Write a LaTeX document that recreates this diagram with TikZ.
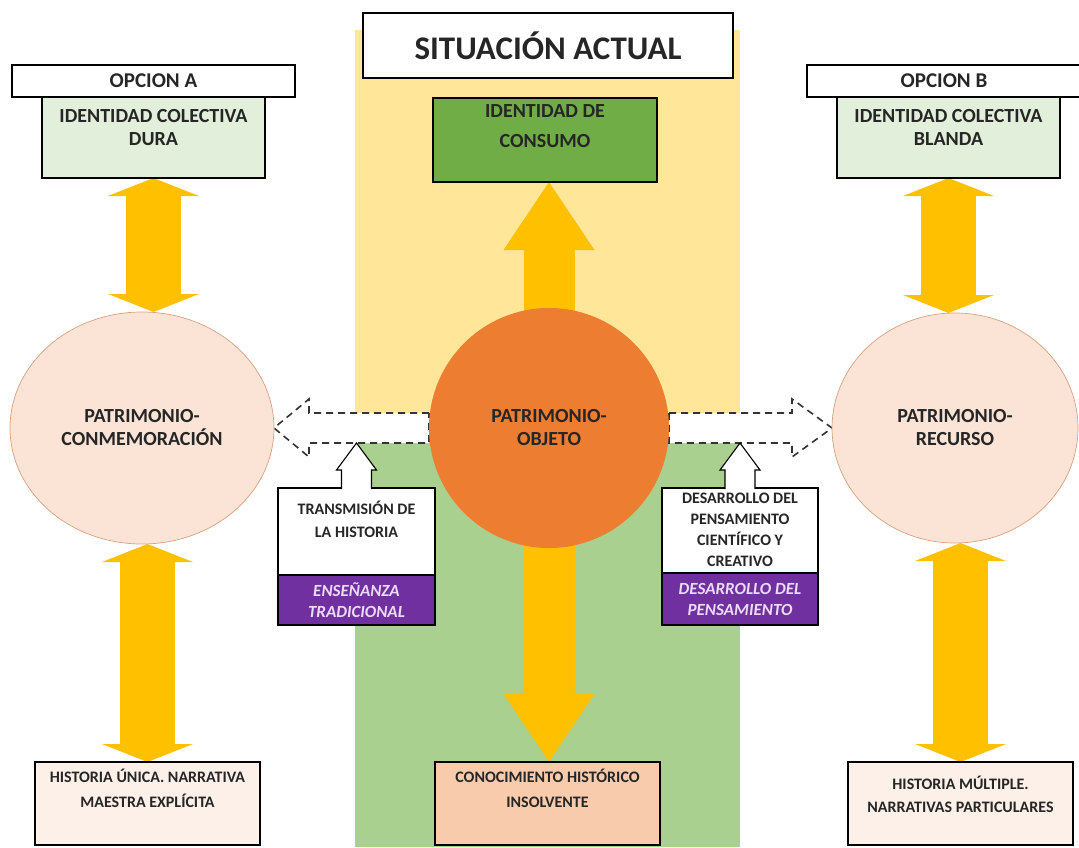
\documentclass[tikz,border=0pt]{standalone}
\usepackage{fontspec}
\setmainfont{Carlito}
\usetikzlibrary{arrows.meta,shapes.geometric,calc}
\pgfdeclarelayer{back}
\pgfdeclarelayer{mid}
\pgfsetlayers{back,mid,main}
\definecolor{panelyel}{HTML}{FFE699}
\definecolor{panelgrn}{HTML}{A9D08E}
\definecolor{gold}{HTML}{FFC000}
\definecolor{consgrn}{HTML}{70AD47}
\definecolor{palegrn}{HTML}{E2EFDA}
\definecolor{peach}{HTML}{FBE3D6}
\definecolor{peachline}{HTML}{D9A07F}
\definecolor{orng}{HTML}{ED7D31}
\definecolor{salmon}{HTML}{F8CBAD}
\definecolor{cream}{HTML}{FDF0E9}
\definecolor{purp}{HTML}{7030A0}
\definecolor{lav}{HTML}{EADCF7}
\definecolor{ink}{HTML}{262626}
\tikzset{
  box/.style={draw=black, line width=1.1pt, anchor=north west, inner sep=0pt, outer sep=0pt, text=ink},
  big/.style={font=\fontsize{20}{23}\selectfont\bfseries},
  sml/.style={font=\fontsize{16}{21}\selectfont\bfseries},
  opt/.style={font=\fontsize{21}{24}\selectfont\bfseries},
  lbl/.style={anchor=north, align=center, inner sep=0pt, text=ink},
  blob/.style={inner sep=0pt, outer sep=0pt, align=center, text=ink, big},
  dblar/.style={draw=gold, line width=55pt,
    {Triangle[length=18pt,width=91pt,line width=0pt]}-{Triangle[length=18pt,width=91pt,line width=0pt]}},
  onear/.style={draw=gold, line width=51pt, -{Triangle[length=68pt,width=91pt,line width=0pt]}},
  dashar/.style={draw=black!80, fill=white, line width=1.6pt, dash pattern=on 7pt off 5pt},
  callar/.style={draw=black, fill=white, line width=1.1pt}
}
\begin{document}
\begin{tikzpicture}[x=1pt,y=-1pt]
	\useasboundingbox (0,0) rectangle (1079,847);
	\begin{pgfonlayer}{back}
	\fill[panelyel] (355,30) rectangle (740,428);
	\fill[panelgrn] (355,428) rectangle (740,847);
	\end{pgfonlayer}

	\node[box, opt, minimum width=283pt, minimum height=32pt] (1) at (12,65) {OPCION A};
	\node[box, fill=palegrn, minimum width=223pt, minimum height=81pt,
	  label={[lbl, big, yshift=-12pt]north:{IDENTIDAD COLECTIVA\\DURA}}] (2) at (42,97) {};
	\node[box, fill=white, minimum width=370pt, minimum height=65pt,
	  font=\fontsize{33}{40}\selectfont\bfseries] (3) at (363,13) {SITUACIÓN ACTUAL};
	\node[box, fill=consgrn, minimum width=224pt, minimum height=84pt,
	  label={[lbl, font=\fontsize{20}{30}\selectfont\bfseries, yshift=-6pt]north:{IDENTIDAD DE\\CONSUMO}}] (4) at (433,98) {};
	\node[box, opt, minimum width=274pt, minimum height=32pt] (5) at (807,65) {OPCION B};
	\node[box, fill=palegrn, minimum width=223pt, minimum height=81pt,
	  label={[lbl, big, yshift=-12pt]north:{IDENTIDAD COLECTIVA\\BLANDA}}] (6) at (837,97) {};

	\node[blob, circle, fill=orng, minimum size=240pt] (7) at (549,428) {PATRIMONIO-\\OBJETO};
	\node[blob, ellipse, fill=peach, draw=peachline, line width=0.7pt,
	  minimum width=264pt, minimum height=232pt] (8) at (142,428) {PATRIMONIO-\\CONMEMORACIÓN};
	\node[blob, ellipse, fill=peach, draw=peachline, line width=0.7pt,
	  minimum width=246pt, minimum height=230pt] (9) at (955,428) {PATRIMONIO-\\RECURSO};

	\node[box, fill=white, minimum width=157pt, minimum height=87pt,
	  label={[lbl, font=\fontsize{16}{23}\selectfont\bfseries, yshift=-13pt]north:{TRANSMISIÓN DE\\LA HISTORIA}}] (10) at (278,488) {};
	\node[box, fill=purp, text=lav, align=center, minimum width=157pt, minimum height=50pt,
	  font=\fontsize{17}{21}\selectfont\bfseries\itshape] (11) at (278,575) {ENSEÑANZA\\TRADICIONAL};
	\node[box, fill=white, minimum width=156pt, minimum height=85pt,
	  label={[lbl, sml, yshift=-5pt]north:{DESARROLLO DEL\\PENSAMIENTO\\CIENTÍFICO Y\\CREATIVO}}] (12) at (662,488) {};
	\node[box, fill=purp, text=lav, align=center, minimum width=156pt, minimum height=52pt,
	  font=\fontsize{17}{21}\selectfont\bfseries\itshape] (13) at (662,573) {DESARROLLO DEL\\PENSAMIENTO};

	\node[box, fill=cream, minimum width=225pt, minimum height=83pt,
	  label={[lbl, font=\fontsize{16}{25}\selectfont\bfseries, yshift=-7pt]north:{HISTORIA ÚNICA. NARRATIVA\\MAESTRA EXPLÍCITA}}] (14) at (35,762) {};
	\node[box, fill=salmon, minimum width=225pt, minimum height=83pt,
	  label={[lbl, font=\fontsize{16}{25}\selectfont\bfseries, yshift=-7pt]north:{CONOCIMIENTO HISTÓRICO\\INSOLVENTE}}] (15) at (435,762) {};
	\node[box, fill=cream, minimum width=225pt, minimum height=83pt,
	  label={[lbl, font=\fontsize{16}{23}\selectfont\bfseries, yshift=-14pt]north:{HISTORIA MÚLTIPLE.\\NARRATIVAS PARTICULARES}}] (16) at (848,762) {};

	\begin{pgfonlayer}{mid}
	\draw[dblar] (2.south) -- (2.south |- 8.north);
	\draw[dblar] (8.south -| 14.north) -- (14.north);
	\draw[dblar] (6.south) -- (6.south |- 9.north);
	\draw[dblar] (9.south -| 16.north) -- (16.north);
	\draw[onear] (7.center) -- (7.center |- 4.south);
	\draw[onear] (7.center) -- (7.center |- 15.north);
	\draw[dashar] ($(7.west)+(0,-15)$) -- ($(8.east)+(35,-15)$) -- ($(8.east)+(35,-29)$) -- (8.east)
	  -- ($(8.east)+(35,29)$) -- ($(8.east)+(35,15)$) -- ($(7.west)+(0,15)$) -- cycle;
	\draw[dashar] ($(7.east)+(0,-15)$) -- ($(9.west)+(-40,-15)$) -- ($(9.west)+(-40,-29)$) -- (9.west)
	  -- ($(9.west)+(-40,29)$) -- ($(9.west)+(-40,15)$) -- ($(7.east)+(0,15)$) -- cycle;
	\end{pgfonlayer}

	\draw[callar] ($(10.north)+(-15,1)$) -- ++(0,-19) -- ++(-5,0) -- ($(10.north)+(0,-45)$)
	  -- ($(10.north)+(20,-18)$) -- ++(-5,0) -- ++(0,19);
	\draw[callar] ($(12.north)+(-15,1)$) -- ++(0,-19) -- ++(-5,0) -- ($(12.north)+(0,-45)$)
	  -- ($(12.north)+(20,-18)$) -- ++(-5,0) -- ++(0,19);
\end{tikzpicture}
\end{document}
